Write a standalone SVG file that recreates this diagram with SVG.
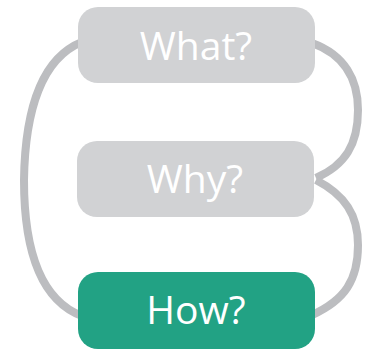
<svg xmlns="http://www.w3.org/2000/svg" width="387" height="350" viewBox="0 0 387 350">
<style>
.c{fill:none;stroke:#bcbdc0;stroke-width:8;stroke-linecap:butt}
.g{fill:#d1d2d4}
.h{fill:#22a284}
.t{font-family:"Open Sans","Noto Sans",sans-serif;font-size:39px;fill:#ffffff;text-anchor:middle}
</style>
<rect width="387" height="350" fill="#ffffff"/>
<g id="connectors">
<path class="c" d="M 82 42 C 42 58, 25 110, 24 180 C 24 250, 40 300, 82 316"/>
<path class="c" d="M 312 43 C 345 55, 358 80, 358 110 C 358 145, 345 165, 316 178"/>
<path class="c" d="M 316 180 C 345 195, 358 215, 358 245 C 358 280, 345 300, 312 315"/>
</g>
<g id="what">
<rect class="g" x="78" y="7" width="237" height="76" rx="20"/>
<text class="t" x="196" y="60">What?</text>
</g>
<g id="why">
<rect class="g" x="77" y="141" width="237" height="76" rx="20"/>
<text class="t" x="195" y="193">Why?</text>
</g>
<g id="how">
<rect class="h" x="78" y="272" width="237" height="77" rx="20"/>
<text class="t" x="196" y="324">How?</text>
</g>
</svg>
